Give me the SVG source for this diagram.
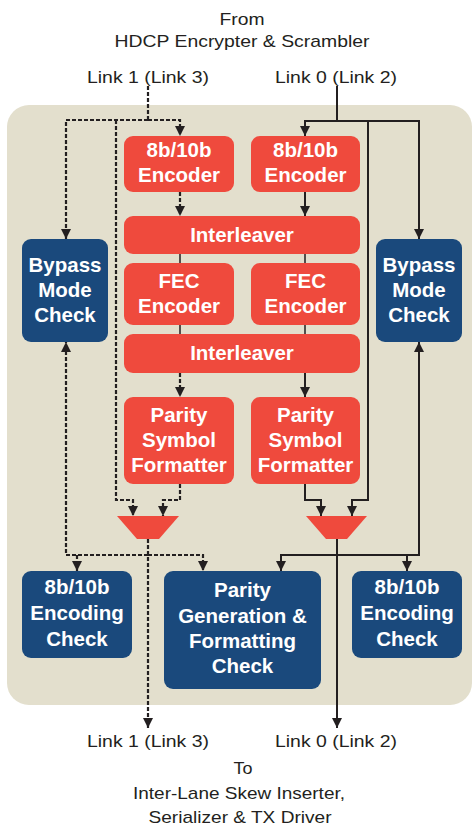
<svg xmlns="http://www.w3.org/2000/svg" width="473" height="827" viewBox="0 0 473 827">
<defs>
<style>
.lbl{font-family:"Liberation Sans",Arial,sans-serif;font-size:17px;fill:#231f20;text-anchor:middle}
.bt{font-family:"Liberation Sans",Arial,sans-serif;font-size:20.5px;font-weight:bold;fill:#ffffff;text-anchor:middle}
.red{fill:#ef4a3d}
.blue{fill:#1a497c}
.s{fill:none;stroke:#231f20;stroke-width:2}
.d{fill:none;stroke:#231f20;stroke-width:2.2;stroke-dasharray:4 2}
</style>
<marker id="ah" viewBox="0 0 10 10" refX="10" refY="5" markerWidth="10" markerHeight="10" markerUnits="userSpaceOnUse" orient="auto">
<path d="M0,0 L10,5 L0,10 z" fill="#231f20"/>
</marker>
</defs>
<rect x="0" y="0" width="473" height="827" fill="#ffffff"/>
<rect id="panel" x="7" y="105" width="465" height="600" rx="22" fill="#e3dfcd"/>

<g id="labels">
<text class="lbl" x="242" y="25" textLength="45" lengthAdjust="spacingAndGlyphs">From</text>
<text class="lbl" x="242" y="47" textLength="255" lengthAdjust="spacingAndGlyphs">HDCP Encrypter &amp; Scrambler</text>
<text class="lbl" x="148" y="83" textLength="122" lengthAdjust="spacingAndGlyphs">Link 1 (Link 3)</text>
<text class="lbl" x="336" y="83" textLength="122" lengthAdjust="spacingAndGlyphs">Link 0 (Link 2)</text>
<text class="lbl" x="148" y="747" textLength="122" lengthAdjust="spacingAndGlyphs">Link 1 (Link 3)</text>
<text class="lbl" x="336" y="747" textLength="122" lengthAdjust="spacingAndGlyphs">Link 0 (Link 2)</text>
<text class="lbl" x="243" y="774" textLength="19" lengthAdjust="spacingAndGlyphs">To</text>
<text class="lbl" x="239" y="799" textLength="212" lengthAdjust="spacingAndGlyphs">Inter-Lane Skew Inserter,</text>
<text class="lbl" x="240" y="823" textLength="183" lengthAdjust="spacingAndGlyphs">Serializer &amp; TX Driver</text>
</g>

<g id="enc1"><rect class="red" x="124" y="136" width="110" height="56" rx="9"/><text class="bt" x="179" y="157">8b/10b</text><text class="bt" x="179" y="182">Encoder</text></g>
<g id="enc0"><rect class="red" x="251" y="136" width="109" height="56" rx="9"/><text class="bt" x="305.5" y="157">8b/10b</text><text class="bt" x="305.5" y="182">Encoder</text></g>
<g id="inter1"><rect class="red" x="124" y="216" width="236" height="38" rx="9"/><text class="bt" x="242" y="242">Interleaver</text></g>
<g id="fec1"><rect class="red" x="124" y="263" width="110" height="62" rx="9"/><text class="bt" x="179" y="288">FEC</text><text class="bt" x="179" y="313">Encoder</text></g>
<g id="fec0"><rect class="red" x="251" y="263" width="109" height="62" rx="9"/><text class="bt" x="305.5" y="288">FEC</text><text class="bt" x="305.5" y="313">Encoder</text></g>
<g id="inter2"><rect class="red" x="124" y="334" width="236" height="39" rx="9"/><text class="bt" x="242" y="360">Interleaver</text></g>
<g id="psf1"><rect class="red" x="124" y="397" width="110" height="87" rx="9"/><text class="bt" x="179" y="422">Parity</text><text class="bt" x="179" y="447">Symbol</text><text class="bt" x="179" y="472">Formatter</text></g>
<g id="psf0"><rect class="red" x="251" y="397" width="109" height="87" rx="9"/><text class="bt" x="305.5" y="422">Parity</text><text class="bt" x="305.5" y="447">Symbol</text><text class="bt" x="305.5" y="472">Formatter</text></g>
<g id="mux1"><polygon class="red" points="117,516 179,516 159,539 137,539"/></g>
<g id="mux0"><polygon class="red" points="306,516 367,516 347,539 326,539"/></g>
<g id="bypass1"><rect class="blue" x="22" y="239" width="86" height="103" rx="9"/><text class="bt" x="65" y="272">Bypass</text><text class="bt" x="65" y="297">Mode</text><text class="bt" x="65" y="322">Check</text></g>
<g id="bypass0"><rect class="blue" x="376" y="239" width="86" height="103" rx="9"/><text class="bt" x="419" y="272">Bypass</text><text class="bt" x="419" y="297">Mode</text><text class="bt" x="419" y="322">Check</text></g>
<g id="enccheck1"><rect class="blue" x="22" y="571" width="110" height="87" rx="9"/><text class="bt" x="77" y="594">8b/10b</text><text class="bt" x="77" y="620">Encoding</text><text class="bt" x="77" y="646">Check</text></g>
<g id="paritycheck"><rect class="blue" x="164" y="571" width="157" height="118" rx="9"/><text class="bt" x="242.5" y="597">Parity</text><text class="bt" x="242.5" y="623">Generation &amp;</text><text class="bt" x="242.5" y="648">Formatting</text><text class="bt" x="242.5" y="673">Check</text></g>
<g id="enccheck0"><rect class="blue" x="352" y="571" width="110" height="87" rx="9"/><text class="bt" x="407" y="594">8b/10b</text><text class="bt" x="407" y="620">Encoding</text><text class="bt" x="407" y="646">Check</text></g>

<g id="connectors">
<path class="d" d="M148,86 V120"/>
<path class="d" d="M148,120 H66 V239" marker-end="url(#ah)"/>
<path class="d" d="M148,120 H180 V136" marker-end="url(#ah)"/>
<path class="d" d="M116,120 V500 H133 V516" marker-end="url(#ah)"/>
<path class="d" d="M180,192 V216" marker-end="url(#ah)"/>
<path class="s" d="M180,254 V263 M180,325 V334" style="stroke-width:1.5"/>
<path class="d" d="M180,373 V397" marker-end="url(#ah)"/>
<path class="d" d="M180,484 V500 H163 V516" marker-end="url(#ah)"/>
<path class="d" d="M148,539 V728" marker-end="url(#ah)"/>
<path class="d" d="M148,555 H66 V342" marker-end="url(#ah)"/>
<path class="d" d="M77,555 V571" marker-end="url(#ah)"/>
<path class="d" d="M148,555 H203 V571" marker-end="url(#ah)"/>

<path class="s" d="M337,86 V121"/>
<path class="s" d="M337,121 H305 V136" marker-end="url(#ah)"/>
<path class="s" d="M337,121 H419 V239" marker-end="url(#ah)"/>
<path class="s" d="M368,121 V500 H352 V516" marker-end="url(#ah)"/>
<path class="s" d="M305,192 V216" marker-end="url(#ah)"/>
<path class="s" d="M305,254 V263 M305,325 V334" style="stroke-width:1.5"/>
<path class="s" d="M305,373 V397" marker-end="url(#ah)"/>
<path class="s" d="M305,484 V500 H321 V516" marker-end="url(#ah)"/>
<path class="s" d="M337,539 V728" marker-end="url(#ah)"/>
<path class="s" d="M337,555 H281 V571" marker-end="url(#ah)"/>
<path class="s" d="M337,555 H419 V342" marker-end="url(#ah)"/>
<path class="s" d="M407,555 V571" marker-end="url(#ah)"/>
</g>
</svg>
